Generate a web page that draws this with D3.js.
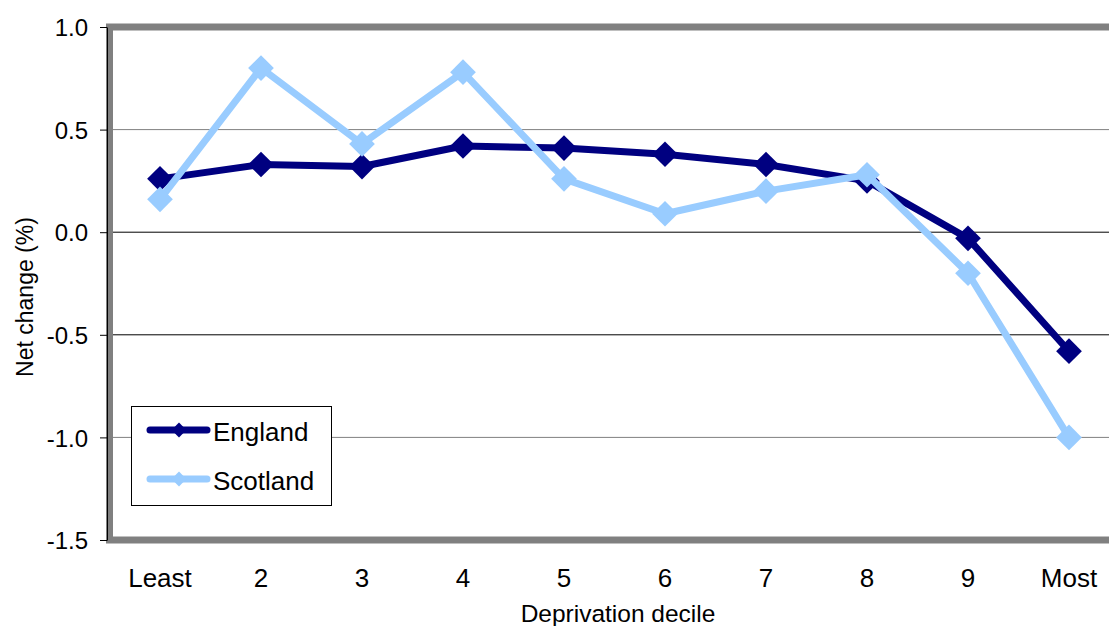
<!DOCTYPE html>
<html lang="en">
<head>
<meta charset="utf-8">
<script src="https://d3js.org/d3.v7.min.js"></script>
<style>
  body { margin: 0; background: #fff; }
  svg { display: block; font-family: Arial, "Liberation Sans", sans-serif; }
  .tick text { fill: #000; }
</style>
</head>
<body>
<svg id="chart" width="1109" height="626"></svg>
<script>
// data
const deciles = ["Least", "2", "3", "4", "5", "6", "7", "8", "9", "Most"];
const england = [0.26, 0.33, 0.32, 0.42, 0.41, 0.38, 0.33, 0.25, -0.03, -0.58];
const scotland = [0.16, 0.80, 0.43, 0.78, 0.26, 0.09, 0.20, 0.28, -0.20, -1.00];
const yTicks = [1.0, 0.5, 0.0, -0.5, -1.0, -1.5];

const series = [
  { name: "England", values: england, color: "#000080" },
  { name: "Scotland", values: scotland, color: "#99ccff" }
];

const svg = d3.select("#chart");

// plot area (right side runs off the picture)
const plotLeft = 109.5, plotTop = 27, plotBottom = 540, plotRight = 1119.5;

const x = d3.scaleBand().domain(deciles).range([plotLeft, plotRight]);
const y = d3.scaleLinear().domain([-1.5, 1.0]).range([plotBottom, plotTop]);

// gridlines
svg.append("g")
  .selectAll("line")
  .data(yTicks.filter(d => d > -1.5 && d < 1.0))
  .enter()
  .append("line")
  .attr("x1", plotLeft)
  .attr("x2", plotRight)
  .attr("y1", d => y(d))
  .attr("y2", d => y(d))
  .attr("stroke", (d, i) => (i === 1 || i === 2) ? "#000" : "#808080")
  .attr("stroke-width", 1);

// plot area border
svg.append("rect")
  .attr("x", plotLeft)
  .attr("y", plotTop)
  .attr("width", plotRight - plotLeft)
  .attr("height", plotBottom - plotTop)
  .attr("fill", "none")
  .attr("stroke", "#808080")
  .attr("stroke-width", 7);

// y axis, plain hyphen for negatives like the original
const fmt = d => d3.format(".1f")(d).replace("−", "-");
const yAxis = svg.append("g")
  .attr("transform", "translate(107,0)")
  .call(d3.axisLeft(y).tickValues(yTicks).tickFormat(fmt).tickSizeOuter(0).tickSizeInner(7).tickPadding(12));
yAxis.select(".domain").attr("stroke", "#000");
yAxis.selectAll(".tick text").attr("font-size", 24).attr("dy", "0.36em");

// x axis labels
const xAxis = svg.append("g")
  .attr("transform", `translate(0,${plotBottom})`)
  .call(d3.axisBottom(x).tickSize(0));
xAxis.select(".domain").remove();
xAxis.selectAll(".tick text")
  .attr("font-size", 26)
  .attr("y", 47)
  .attr("dy", null);

// axis titles
svg.append("text")
  .attr("x", 618)
  .attr("y", 622)
  .attr("text-anchor", "middle")
  .attr("font-size", 24.5)
  .text("Deprivation decile");

svg.append("text")
  .attr("transform", "translate(33,297) rotate(-90)")
  .attr("text-anchor", "middle")
  .attr("font-size", 23)
  .text("Net change (%)");

// lines and markers
const line = d3.line()
  .x((d, i) => x(deciles[i]) + x.bandwidth() / 2)
  .y(d => y(d));

const diamond = d3.symbol().type(d3.symbolSquare).size(330);

series.forEach(s => {
  const g = svg.append("g");
  g.append("path")
    .attr("d", line(s.values))
    .attr("fill", "none")
    .attr("stroke", s.color)
    .attr("stroke-width", 7)
    .attr("stroke-linejoin", "round");
  g.selectAll("path.mark")
    .data(s.values)
    .enter()
    .append("path")
    .attr("class", "mark")
    .attr("d", diamond)
    .attr("transform", (d, i) => `translate(${x(deciles[i]) + x.bandwidth() / 2},${y(d)}) rotate(45)`)
    .attr("fill", s.color);
});

// legend
const legend = svg.append("g");
legend.append("rect")
  .attr("x", 131.5)
  .attr("y", 406.5)
  .attr("width", 200)
  .attr("height", 99)
  .attr("fill", "#fff")
  .attr("stroke", "#000")
  .attr("stroke-width", 1);

const legendSymbol = d3.symbol().type(d3.symbolSquare).size(110);
series.forEach((s, i) => {
  const ly = 430 + i * 49;
  legend.append("line")
    .attr("x1", 150).attr("x2", 207)
    .attr("y1", ly).attr("y2", ly)
    .attr("stroke", s.color)
    .attr("stroke-width", 7)
    .attr("stroke-linecap", "round");
  legend.append("path")
    .attr("d", legendSymbol)
    .attr("transform", `translate(179,${ly}) rotate(45)`)
    .attr("fill", s.color);
  legend.append("text")
    .attr("x", 213)
    .attr("y", ly + 11)
    .attr("font-size", 26)
    .text(s.name);
});
</script>
</body>
</html>
